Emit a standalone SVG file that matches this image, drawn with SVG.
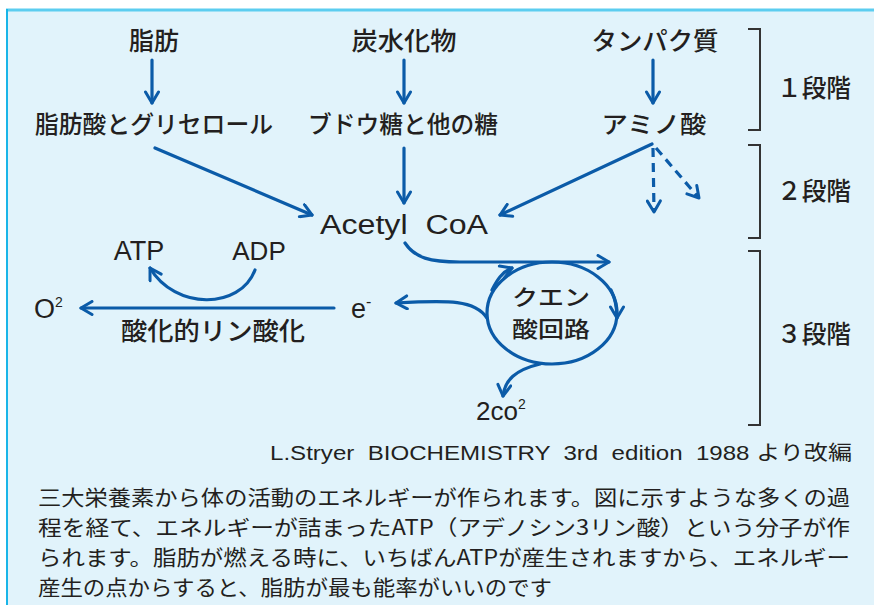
<svg xmlns="http://www.w3.org/2000/svg" width="874" height="605" viewBox="0 0 874 605">
<defs>
<style>
.jp{font-family:"Noto Sans CJK JP","Noto Sans",sans-serif;fill:#231f20;font-weight:500;}
.lat{font-family:"Liberation Sans","Noto Sans",sans-serif;fill:#231f20;white-space:pre;}
.ln{fill:none;stroke:#0b5ba8;stroke-width:3.2;stroke-linecap:round;}
.dash{stroke-dasharray:9 6;stroke-linecap:butt;}
.br{fill:none;stroke:#333;stroke-width:2;}
</style>
<marker id="ahb" viewBox="0 0 16 16" refX="14" refY="8" markerWidth="16" markerHeight="16" markerUnits="userSpaceOnUse" orient="auto">
<polyline points="3,1.5 14,8 3,14.5" fill="none" stroke="#0b5ba8" stroke-width="3" stroke-linecap="round" stroke-linejoin="round"/>
</marker>
</defs>
<rect x="0" y="0" width="874" height="605" fill="#ffffff"/>
<rect x="6" y="9" width="880" height="610" fill="#e1f3fb"/>
<line x1="6" y1="10" x2="874" y2="10" stroke="#5ccdf0" stroke-width="3"/>
<line x1="7" y1="9" x2="7" y2="605" stroke="#19b5e8" stroke-width="2"/>

<g id="connectors">
<line class="ln" x1="152" y1="60" x2="152" y2="103" marker-end="url(#ahb)"/>
<line class="ln" x1="404" y1="60" x2="404" y2="103" marker-end="url(#ahb)"/>
<line class="ln" x1="653" y1="60" x2="653" y2="103" marker-end="url(#ahb)"/>
<line class="ln" x1="155" y1="148" x2="312" y2="215" marker-end="url(#ahb)"/>
<line class="ln" x1="404" y1="148" x2="404" y2="203" marker-end="url(#ahb)"/>
<line class="ln" x1="652" y1="144" x2="500" y2="215" marker-end="url(#ahb)"/>
<line class="ln dash" x1="653" y1="148" x2="654" y2="212" marker-end="url(#ahb)"/>
<line class="ln dash" x1="656" y1="148" x2="699" y2="198" marker-end="url(#ahb)"/>
<path class="ln" d="M405,243 C415,258 430,262 460,262 L609,262" marker-end="url(#ahb)"/>
<ellipse class="ln" cx="552" cy="313" rx="65" ry="51"/>
<path class="ln" d="M492,290 C497,280 502,272 512,268" marker-end="url(#ahb)"/>
<path class="ln" d="M611,290 C615,298 617,305 617,318" marker-end="url(#ahb)"/>
<path class="ln" d="M487,318 C475,300 450,300 396,303" marker-end="url(#ahb)"/>
<path class="ln" d="M540,364 C515,370 505,380 503,396" marker-end="url(#ahb)"/>
<line class="ln" x1="334" y1="308" x2="81" y2="308" marker-end="url(#ahb)"/>
<path class="ln" d="M255,270 C240,310 175,310 150,268" marker-end="url(#ahb)"/>
</g>

<g id="n-fat"><text class="jp" x="154" y="50" font-size="25" text-anchor="middle">脂肪</text></g>
<g id="n-carb"><text class="jp" x="404" y="50" font-size="25" text-anchor="middle" textLength="105" lengthAdjust="spacingAndGlyphs">炭水化物</text></g>
<g id="n-protein"><text class="jp" x="655" y="50" font-size="25" text-anchor="middle" textLength="127" lengthAdjust="spacingAndGlyphs">タンパク質</text></g>
<g id="n-fatacid"><text class="jp" x="154" y="133" font-size="24" text-anchor="middle" textLength="238" lengthAdjust="spacingAndGlyphs">脂肪酸とグリセロール</text></g>
<g id="n-glucose"><text class="jp" x="403" y="133" font-size="24" text-anchor="middle" textLength="190" lengthAdjust="spacingAndGlyphs">ブドウ糖と他の糖</text></g>
<g id="n-amino"><text class="jp" x="654" y="133" font-size="24" text-anchor="middle" textLength="105" lengthAdjust="spacingAndGlyphs">アミノ酸</text></g>
<g id="n-acetyl"><text class="lat" x="404" y="234" font-size="27" text-anchor="middle" textLength="168" lengthAdjust="spacingAndGlyphs">Acetyl  CoA</text></g>
<g id="n-atp"><text class="lat" x="139" y="260" font-size="27" text-anchor="middle">ATP</text></g>
<g id="n-adp"><text class="lat" x="259" y="260" font-size="26" text-anchor="middle">ADP</text></g>
<g id="n-o2"><text class="lat" x="34" y="318" font-size="27">O<tspan font-size="14" dy="-11">2</tspan></text></g>
<g id="n-e"><text class="lat" x="351" y="318" font-size="27">e<tspan font-size="16" dy="-11">-</tspan></text></g>
<g id="n-oxphos"><text class="jp" x="213" y="340" font-size="25" text-anchor="middle" textLength="184" lengthAdjust="spacingAndGlyphs">酸化的リン酸化</text></g>
<g id="n-tca"><text class="jp" x="551" y="305" font-size="22" text-anchor="middle" textLength="78" lengthAdjust="spacingAndGlyphs">クエン</text><text class="jp" x="551" y="337" font-size="22" text-anchor="middle" textLength="78" lengthAdjust="spacingAndGlyphs">酸回路</text></g>
<g id="n-co2"><text class="lat" x="476" y="420" font-size="26">2co<tspan font-size="14" dy="-11">2</tspan></text></g>

<g id="stages">
<polyline class="br" points="748,29 760,29 760,130 748,130"/>
<polyline class="br" points="748,145 760,145 760,238 748,238"/>
<polyline class="br" points="748,251 760,251 760,425 748,425"/>
<text class="jp" x="814" y="97" font-size="25" text-anchor="middle" textLength="74" lengthAdjust="spacingAndGlyphs">１段階</text>
<text class="jp" x="814" y="200" font-size="25" text-anchor="middle" textLength="74" lengthAdjust="spacingAndGlyphs">２段階</text>
<text class="jp" x="814" y="343" font-size="25" text-anchor="middle" textLength="74" lengthAdjust="spacingAndGlyphs">３段階</text>
</g>

<text class="lat" x="852" y="460" font-size="20" text-anchor="end" textLength="582" lengthAdjust="spacingAndGlyphs" style="font-family:'Liberation Sans','Noto Sans CJK JP',sans-serif">L.Stryer  BIOCHEMISTRY  3rd  edition  1988 より改編</text>

<g class="jp" font-size="21" style="font-weight:400">
<text x="38" y="505" textLength="812" lengthAdjust="spacingAndGlyphs">三大栄養素から体の活動のエネルギーが作られます。図に示すような多くの過</text>
<text x="38" y="535" textLength="812" lengthAdjust="spacingAndGlyphs">程を経て、エネルギーが詰まったATP（アデノシン3リン酸）という分子が作</text>
<text x="38" y="565" textLength="812" lengthAdjust="spacingAndGlyphs">られます。脂肪が燃える時に、いちばんATPが産生されますから、エネルギー</text>
<text x="38" y="595" textLength="514" lengthAdjust="spacingAndGlyphs">産生の点からすると、脂肪が最も能率がいいのです</text>
</g>
</svg>
